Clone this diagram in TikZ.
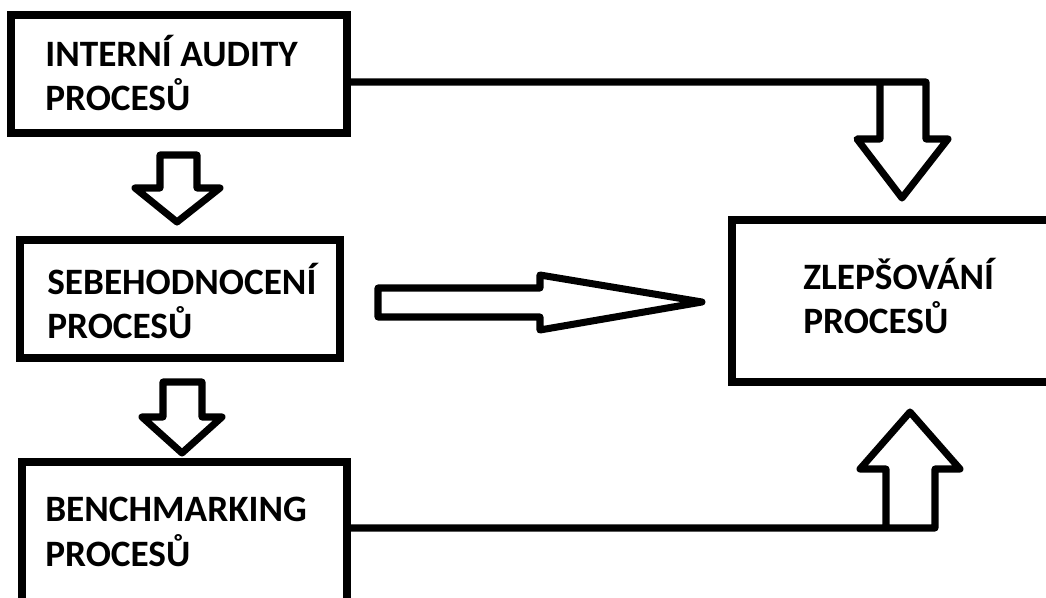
\documentclass[tikz,border=0pt]{standalone}
\usepackage{fontspec}
\setmainfont{Carlito}
\usepackage{tikz}
\usetikzlibrary{positioning,fit}

\begin{document}
\begin{tikzpicture}[x=0.02cm,y=-0.02cm,
    box/.style={draw, line width=4pt, inner sep=0pt},
    txt/.style={font=\bfseries\fontsize{21.2}{25.6}\selectfont, align=left, anchor=west, inner sep=0pt},
    blockarrow/.style={draw, line width=4pt, line join=round, fill=white}]
    \useasboundingbox (0,0) rectangle (1046,598);
    \clip (0,0) rectangle (1046,598);

    % Boxes
    \node[box, fit={(11,15) (347,133)}] (audit) {};
    \node[box, fit={(20,240) (340,358)}] (self) {};
    \node[box, fit={(22,462) (347,640)}] (bench) {};
    \node[box, fit={(732,220) (1070,382)}] (improve) {};

    % Texts
    \node[txt] (auditText) at (45,73) {INTERNÍ AUDITY\\PROCESŮ};
    \node[txt] (selfText) at (47,301) {SEBEHODNOCENÍ\\PROCESŮ};
    \node[txt] (benchText) at (45,532) {BENCHMARKING\\PROCESŮ};
    \node[txt] (improveText) at (803,296) {ZLEPŠOVÁNÍ\\PROCESŮ};

    % Block arrows on the left
    \draw[blockarrow] (160,155) -- (197,155) -- (197,188) -- (220,188) -- (177,222) -- (135,188) -- (160,188) -- cycle;
    \draw[blockarrow] (163,382) -- (202,382) -- (202,417) -- (222,417) -- (182,453) -- (142,417) -- (163,417) -- cycle;
    \draw[blockarrow] (378,288) -- (540,288) -- (540,275) -- (702,302) -- (540,330) -- (540,317) -- (378,317) -- cycle;

    % Lines into the improvement box
    \coordinate (topEnd) at (926,82);
    \coordinate (botEnd) at (935,528);
    \draw[blockarrow, fill=none] (audit.east |- topEnd) -- (topEnd) -- (926,139) -- (948,139) -- (902,198) -- (857,139) -- (880,139) -- (880,82);
    \draw[blockarrow, fill=none] (bench.east |- botEnd) -- (botEnd) -- (935,469) -- (960,469) -- (910,412) -- (860,469) -- (886,469) -- (886,528);
\end{tikzpicture}
\end{document}
